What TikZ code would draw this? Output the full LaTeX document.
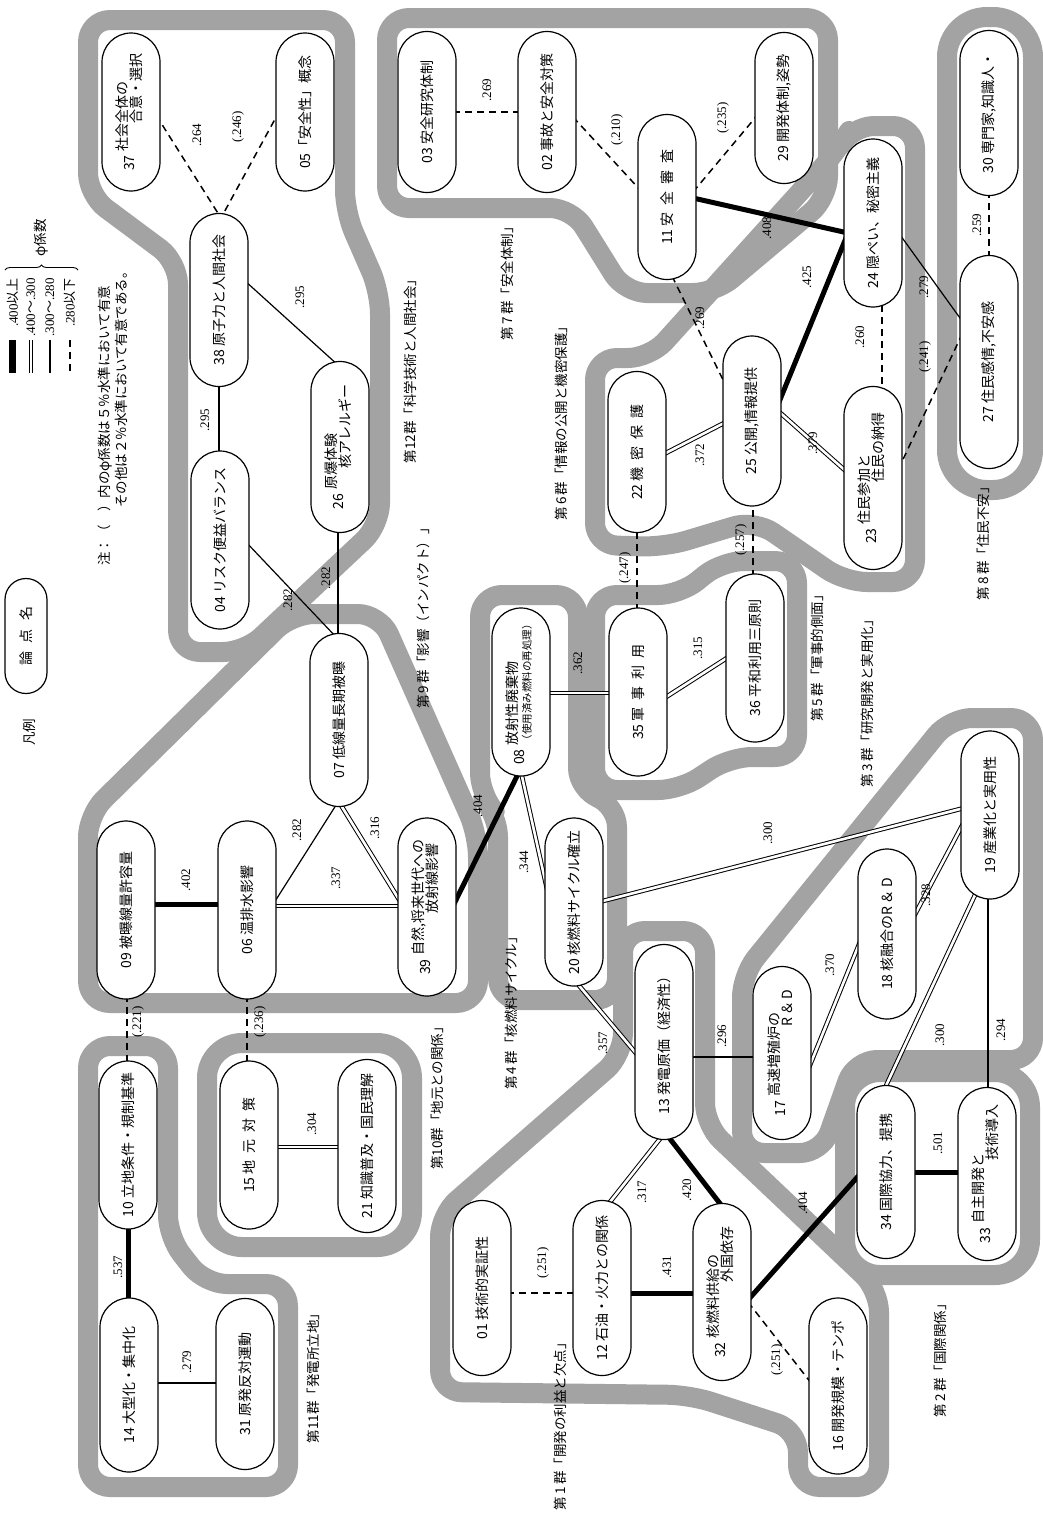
\documentclass[tikz,border=0pt]{standalone}
\usepackage{fontspec}
\setmainfont{Noto Sans CJK JP}
\newfontfamily\numf{Liberation Serif}
\newfontfamily\cjk{Noto Sans CJK JP}
\usetikzlibrary{shapes.misc,calc,decorations.pathreplacing}
\pgfdeclarelayer{bands}
\pgfdeclarelayer{links}
\pgfsetlayers{bands,links,main}
\newcommand\twoline[4]{#1\hspace{0.3em}\begin{tabular}[c]{@{}l@{}}#2\\[-3pt]\hspace*{#3}#4\end{tabular}}
\begin{document}
\begin{tikzpicture}[x=1pt,y=-1pt,
  pill/.style={rounded rectangle, draw, line width=1.2pt, fill=white, rotate=90,
     minimum height=58pt, minimum width=#1, inner sep=1pt,
     font=\fontsize{14}{16}\selectfont},
  lab/.style={rotate=90, inner sep=0pt, font=\numf\fontsize{13}{14}\selectfont},
  grp/.style={rotate=90, inner sep=0pt, font=\fontsize{13.5}{14}\selectfont},
  band/.style={line width=20pt, draw=black!36, rounded corners=22pt, line join=round},
  thk/.style={line width=5pt},
  dbl/.style={double, double distance=2.6pt, line width=1pt},
  sgl/.style={line width=1.2pt},
  dsh/.style={line width=1.5pt, dash pattern=on 7pt off 5pt}
]
\useasboundingbox (0,0) rectangle (1043,1529);

% ---------------- nodes ----------------
\node[pill=160pt] (n37) at (131,112) {\twoline{37}{社会全体の}{2em}{合意・選択}};
\node[pill=160pt] (n05) at (305,112) {05「安全性」概念};
\node[pill=175pt] (n38) at (219,300) {38\ 原子力と人間社会};
\node[pill=180pt] (n04) at (220,540) {04\ リスク便益バランス};
\node[pill=173pt] (n26) at (340,447) {\twoline{26}{原爆体験}{1.5em}{核アレルギー}};
\node[pill=163pt] (n03) at (427,112) {03\ 安全研究体制};
\node[pill=163pt] (n02) at (547,112) {02\ 事故と安全対策};
\node[pill=167pt] (n11) at (667,197) {11\ 安\hspace{0.5em}全\hspace{0.5em}審\hspace{0.5em}査};
\node[pill=153pt] (n29) at (784,108) {29\ 開発体制,姿勢};
\node[pill=167pt] (n30) at (989,113) {30\ 専門家,知識人・};
\node[pill=215pt] (n27) at (989,362) {27\ 住民感情,不安感};
\node[pill=170pt] (n24) at (873,223) {24\ 隠ぺい、秘密主義};
\node[pill=172pt] (n25) at (752,421) {25\ 公開,情報提供};
\node[pill=163pt] (n22) at (637,452) {22\ 機\hspace{0.5em}密\hspace{0.5em}保\hspace{0.5em}護};
\node[pill=185pt] (n23) at (873,478) {\twoline{23}{住民参加と}{3em}{住民の納得}};
\node[pill=170pt] (n35) at (638,692) {35\ 軍\hspace{0.5em}事\hspace{0.5em}利\hspace{0.5em}用};
\node[pill=170pt] (n36) at (755,658) {36\ 平和利用三原則};
\node[pill=175pt] (n07) at (339,720) {07\ 低線量長期被曝};
\node[pill=170pt] (n08) at (521,692) {08\hspace{0.3em}\begin{tabular}[c]{@{}l@{}}放射性廃棄物\\[-3pt]{\fontsize{10.5}{12}\selectfont （使用済み燃料の再処理）}\end{tabular}};
\node[pill=180pt] (n09) at (126,910) {09\ 被曝線量許容量};
\node[pill=180pt] (n06) at (247,910) {06\ 温排水影響};
\node[pill=180pt] (n39) at (427,907) {\twoline{39}{自然,将来世代への}{3em}{放射線影響}};
\node[pill=170pt] (n20) at (574,902) {20\ 核燃料サイクル確立};
\node[pill=170pt] (n19) at (990,815) {19\ 産業化と実用性};
\node[pill=172pt] (n18) at (887,934) {18\ 核融合のR\,＆\,D};
\node[pill=175pt] (n17) at (782,1053) {\twoline{17}{高速増殖炉の}{5em}{R\,＆\,D}};
\node[pill=197pt] (n13) at (664,1042) {13\ 発電原価（経済性）};
\node[pill=170pt] (n10) at (128,1145) {10\ 立地条件・規制基準};
\node[pill=170pt] (n15) at (249,1145) {15\ 地\hspace{0.5em}元\hspace{0.5em}対\hspace{0.5em}策};
\node[pill=175pt] (n21) at (367,1146) {21\ 知識普及・国民理解};
\node[pill=176pt] (n14) at (129,1385) {14\ 大型化・集中化};
\node[pill=173pt] (n31) at (245,1384) {31\ 原発反対運動};
\node[pill=177pt] (n01) at (482,1288) {01\ 技術的実証性};
\node[pill=177pt] (n12) at (602,1288) {12\ 石油・火力との関係};
\node[pill=179pt] (n32) at (722,1292) {\twoline{32}{核燃料供給の}{4em}{外国依存}};
\node[pill=175pt] (n34) at (886,1172) {34\ 国際協力、提携};
\node[pill=175pt] (n33) at (987,1174) {\twoline{33}{自主開発と}{4.5em}{技術導入}};
\node[pill=178pt] (n16) at (838,1386) {16\ 開発規模・テンポ};
\node[pill=117pt, minimum height=42pt] (nL) at (26,636) {論\hspace{0.6em}点\hspace{0.6em}名};

% ---------------- group labels ----------------
\node[grp] (g1) at (560,1423) {第\,1\,群「開発の利益と欠点」};
\node[grp] (g2) at (940,1357) {第\,2\,群「国際関係」};
\node[grp] (g3) at (867,700) {第\,3\,群「研究開発と実用化」};
\node[grp] (g4) at (511,1010) {第\,4\,群「核燃料サイクル」};
\node[grp] (g5) at (817,655) {第\,5\,群「軍事的側面」};
\node[grp] (g6) at (561,420) {第\,6\,群「情報の公開と機密保護」};
\node[grp] (g7) at (507,280) {第\,7\,群「安全体制」};
\node[grp] (g8) at (983,540) {第\,8\,群「住民不安」};
\node[grp] (g9) at (423,615) {第\,9\,群「影響（インパクト）」};
\node[grp] (g10) at (437,1095) {第10群「地元との関係」};
\node[grp] (g11) at (313,1375) {第11群「発電所立地」};
\node[grp] (g12) at (410,368) {第12群「科学技術と人間社会」};

% ---------------- legend ----------------
\node[grp] (lgA) at (29,732) {凡例};
\node[grp, anchor=west, font=\fontsize{13.5}{14}\selectfont] (note1) at (105,566) {注：（　）内のφ係数は５％水準において有意};
\node[grp, anchor=west, font=\fontsize{13.5}{14}\selectfont] (note2) at (121,508) {その他は２％水準において有意である。};
\node[lab, anchor=east] (k1) at (13,278) {.400{\cjk 以上}};
\node[lab, anchor=east] (k2) at (31,278) {.400{\cjk ～}.300};
\node[lab, anchor=east] (k3) at (50,278) {.300{\cjk ～}.280};
\node[lab, anchor=east] (k4) at (70,278) {.280{\cjk 以下}};
\node[grp] (kphi) at (41,238) {φ係数};
\coordinate (s1a) at (12,340); \coordinate (s1b) at (12,373);
\coordinate (s2a) at (31,340); \coordinate (s2b) at (31,373);
\coordinate (s3a) at (50,340); \coordinate (s3b) at (50,373);
\coordinate (s4a) at (70,340); \coordinate (s4b) at (70,373);
\draw[line width=7pt] (s1a) -- (s1b);
\draw[dbl] (s2a) -- (s2b);
\draw[sgl] (s3a) -- (s3b);
\draw[dsh] (s4a) -- (s4b);
\coordinate (br1) at (78,270); \coordinate (br2) at (5,270);
\draw[line width=0.9pt, decorate, decoration={brace, amplitude=5pt}] (br2) -- (br1);

% ---------------- coefficient labels ----------------
\foreach \t/\x/\y in {.264/197/135, (.246)/238/127, .295/300/297, .295/205/420, .282/288/600, .282/326/578,
  .282/297/830, .316/375/828, .337/336/878, .402/186/880, .404/478/806, .344/524/862, .362/578/663,
  (.247)/625/568, (.257)/741/540, .315/698/648, .372/700/455, .425/807/277, .379/813/443, .408/767/228,
  (.235)/723/118, .269/700/318, (.210)/617/130, .269/487/90, .260/860/337, .279/924/287, (.241)/925/357,
  .259/977/225, .300/768/833, .357/603/1043, .296/722/1036, .370/830/965, .328/926/895, .300/940/1035,
  .294/1001/1030, .501/938/1143, .404/803/1203, (.251)/777/1360, .420/687/1190, .317/642/1192, .431/667/1267,
  (.251)/543/1263, (.221)/138/1022, (.236)/260/1022, .537/118/1267, .279/187/1362, .304/312/1124}
  \node[lab] at (\x,\y) {\t};

% ---------------- connectors ----------------
\begin{pgfonlayer}{links}
\draw[dsh] ($(n37)+(25,3)$) -- ($(n38)+(2,-82)$);
\draw[dsh] ($(n05)+(-25,-2)$) -- ($(n38)+(2,-82)$);
\draw[sgl] ($(n38)+(25,-20)$) -- ($(n26)+(-1,-81)$);
\draw[sgl] ($(n38)+(0,85)$) -- ($(n04)+(-1,-85)$);
\draw[sgl] ($(n04)+(25,1)$) -- ($(n07)+(-2,-82)$);
\draw[sgl] ($(n26)+(-2,81)$) -- ($(n07)+(-1,-82)$);
\draw[sgl] ($(n07)+(-1,82)$) -- ($(n06)+(25,-4)$);
\draw[dbl] ($(n07)+(0,82)$) -- ($(n39)+(-24,-1)$);
\draw[dbl] ($(n06)+(25,-4)$) -- ($(n39)+(-24,-1)$);
\draw[thk] ($(n09)+(25,-6)$) -- ($(n06)+(-25,-6)$);
\draw[thk] ($(n39)+(26,-1)$) -- ($(n08)+(-2,80)$);
\draw[dbl] ($(n08)+(0,80)$) -- ($(n20)+(-25,-4)$);
\draw[dbl] ($(n08)+(25,1)$) -- ($(n35)+(-25,1)$);
\draw[dsh] ($(n35)+(-1,-81)$) -- ($(n22)+(0,77)$);
\draw[dsh] ($(n36)+(-2,-81)$) -- ($(n25)+(1,82)$);
\draw[dbl] ($(n35)+(25,7)$) -- ($(n36)+(-25,-2)$);
\draw[dbl] ($(n22)+(25,3)$) -- ($(n25)+(-24,0)$);
\draw[thk] ($(n25)+(25,-14)$) -- ($(n24)+(-25,10)$);
\draw[dbl] ($(n25)+(25,-11)$) -- ($(n23)+(-25,-5)$);
\draw[thk] ($(n11)+(26,1)$) -- ($(n24)+(-25,10)$);
\draw[dsh] ($(n11)+(26,-5)$) -- ($(n29)+(-24,4)$);
\draw[dsh] ($(n11)+(5,79)$) -- ($(n25)+(-24,-31)$);
\draw[dsh] ($(n02)+(26,5)$) -- ($(n11)+(-25,-5)$);
\draw[dsh] ($(n03)+(26,0)$) -- ($(n02)+(-25,0)$);
\draw[dsh] ($(n24)+(9,82)$) -- ($(n23)+(9,-88)$);
\draw[sgl] ($(n24)+(25,9)$) -- ($(n27)+(-24,-37)$);
\draw[dsh] ($(n23)+(25,-8)$) -- ($(n27)+(-24,-34)$);
\draw[dsh] ($(n27)+(0,-104)$) -- ($(n30)+(0,80)$);
\draw[dbl] ($(n20)+(25,0)$) -- ($(n19)+(-26,-7)$);
\draw[dbl] ($(n20)+(2,80)$) -- ($(n13)+(-24,16)$);
\draw[sgl] ($(n13)+(25,15)$) -- ($(n17)+(-25,4)$);
\draw[dbl] ($(n17)+(26,17)$) -- ($(n18)+(-25,3)$);
\draw[dbl] ($(n18)+(25,-14)$) -- ($(n19)+(-25,5)$);
\draw[dbl] ($(n34)+(-2,-82)$) -- ($(n19)+(-15,80)$);
\draw[sgl] ($(n33)+(1,-82)$) -- ($(n19)+(-2,80)$);
\draw[thk] ($(n34)+(25,0)$) -- ($(n33)+(-25,-2)$);
\draw[thk] ($(n32)+(26,8)$) -- ($(n34)+(-25,1)$);
\draw[dsh] ($(n32)+(26,10)$) -- ($(n16)+(-23,2)$);
\draw[thk] ($(n13)+(3,93)$) -- ($(n32)+(3,-82)$);
\draw[dbl] ($(n13)+(-1,93)$) -- ($(n12)+(4,-81)$);
\draw[thk] ($(n12)+(25,5)$) -- ($(n32)+(-25,1)$);
\draw[dsh] ($(n01)+(25,5)$) -- ($(n12)+(-25,5)$);
\draw[dsh] ($(n09)+(1,85)$) -- ($(n10)+(-1,-80)$);
\draw[dsh] ($(n06)+(0,85)$) -- ($(n15)+(-2,-80)$);
\draw[thk] ($(n10)+(0,80)$) -- ($(n14)+(-1,-83)$);
\draw[sgl] ($(n14)+(25,-2)$) -- ($(n31)+(-25,-1)$);
\draw[dbl] ($(n15)+(25,2)$) -- ($(n21)+(-25,1)$);
\end{pgfonlayer}

% ---------------- group bands ----------------
\begin{pgfonlayer}{bands}
\fill[white] (0,0) rectangle (1043,1529);
\draw[band] (88,20) -- (345,20) -- (345,212) -- (380,292) -- (380,525) -- (245,652) -- (178,652) -- (178,262) -- (88,195) -- cycle;
\draw[band] (88,1003) -- (88,815) -- (292,614) -- (380,614) -- (478,835) -- (478,1003) -- cycle;
\draw[band] (480,595) -- (578,595) -- (578,790) -- (617,805) -- (617,1000) -- (498,1000) -- (498,815) -- (480,795) -- cycle;
\draw[band] (595,790) -- (595,595) -- (680,595) -- (722,561) -- (797,561) -- (797,757) -- (730,757) -- (680,790) -- cycle;
\draw[band] (595,545) -- (595,358) -- (650,358) -- (838,150) -- (852,126) -- (915,126) -- (915,582) -- (845,582) -- (755,520) -- (665,547) -- cycle;
\draw[band] (387,18) -- (828,18) -- (828,198) -- (715,293) -- (625,293) -- (572,208) -- (387,208) -- cycle;
\draw[band, rounded corners=40pt] (947,17) rectangle (1033,490);
\draw[band] (742,1153) -- (742,975) -- (950,718) -- (1033,718) -- (1033,1060) -- (855,1060) -- (822,1153) -- cycle;
\draw[band, rounded corners=35pt] (845,1072) rectangle (1030,1275);
\draw[band] (440,1392) -- (440,1215) -- (623,1055) -- (623,931) -- (705,931) -- (705,1125) -- (879,1290) -- (879,1487) -- (798,1487) -- (798,1430) -- (690,1395) -- cycle;
\draw[band, rounded corners=35pt] (207,1043) rectangle (412,1247);
\draw[band] (88,1046) -- (168,1046) -- (168,1237) -- (205,1284) -- (288,1284) -- (288,1487) -- (88,1487) -- cycle;
\end{pgfonlayer}
\end{tikzpicture}
\end{document}
